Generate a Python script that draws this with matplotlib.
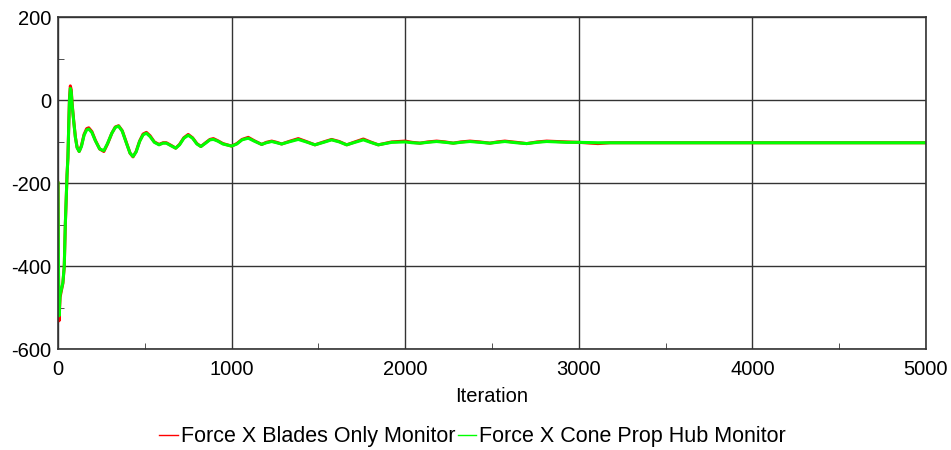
import matplotlib.pyplot as plt
from matplotlib.ticker import MultipleLocator

plt.rcParams['font.family'] = ['Liberation Sans', 'DejaVu Sans']
plt.rcParams['axes.unicode_minus'] = False

# monitor history, sampled iterations
iters = [0, 3, 6, 12, 20, 28, 36, 42, 47, 52, 57, 62, 66, 71, 76, 82, 90, 100, 110, 122,
         135, 150, 165, 177, 195, 215, 240, 264, 285, 310, 330, 349, 370, 395, 415, 432,
         450, 470, 490, 509, 530, 555, 582, 605, 624, 650, 678, 700, 725, 750, 775, 800,
         823, 850, 875, 895, 920, 950, 1000, 1030, 1060, 1096, 1130, 1173, 1200, 1231, 1260,
         1288, 1330, 1384, 1430, 1480, 1530, 1576, 1620, 1663, 1710, 1759, 1800, 1845, 1922,
         2000, 2040, 2085, 2130, 2181, 2230, 2277, 2320, 2373, 2430, 2488, 2530, 2574, 2640,
         2700, 2760, 2815, 2930, 3000, 3110, 3180, 3240, 3420, 3530, 3950, 5000]

hub_force = [-200, -420, -520, -470, -455, -440, -400, -300, -240, -180, -140, -60, 0, 28, 20,
             -15, -50, -90, -115, -124, -112, -85, -72, -70, -78, -98, -118, -122, -105, -80,
             -66, -63, -75, -105, -128, -136, -125, -100, -84, -80, -88, -102, -108, -104,
             -104, -110, -116, -108, -92, -85, -92, -106, -112, -104, -96, -95, -99, -106,
             -111, -106, -96, -92, -99, -107, -103, -100, -103, -106, -101, -95, -101, -108,
             -102, -96, -101, -108, -102, -96, -102, -108, -102, -101, -103, -104, -102, -100,
             -102, -104, -102, -100, -102, -104, -102, -100, -103, -105, -102, -100, -102,
             -102, -103, -103, -103, -103, -103, -103, -103]

blades_force = [-200, -425, -532, -475, -458, -442, -402, -302, -242, -181, -139, -58, 3, 34, 25,
                -12, -48, -89, -114, -124, -110, -83, -69, -67, -76, -97, -118, -124, -106, -80,
                -65, -62, -74, -104, -128, -137, -124, -99, -82, -78, -86, -101, -107, -103,
                -103, -109, -116, -107, -91, -83, -91, -105, -112, -103, -95, -93, -98, -105,
                -111, -105, -95, -90, -98, -107, -102, -99, -102, -106, -100, -93, -100, -108,
                -101, -95, -100, -108, -101, -94, -101, -108, -101, -99, -102, -104, -101, -99,
                -101, -104, -101, -99, -101, -104, -101, -99, -102, -105, -101, -99, -101,
                -102, -105, -103, -103, -103, -103, -103, -103]

fig = plt.figure(figsize=(9.51, 4.5), dpi=100)
ax = fig.add_axes([0.061, 0.2244, 0.9127, 0.7378])

ax.plot(iters, blades_force, color='#ff0000', lw=2.2, label='Force X Blades Only Monitor')
ax.plot(iters, hub_force, color='#00ff00', lw=2.2, label='Force X Cone Prop Hub Monitor')

ax.set_xlim(0, 5000)
ax.set_ylim(-600, 200)
ax.xaxis.set_major_locator(MultipleLocator(1000))
ax.xaxis.set_minor_locator(MultipleLocator(500))
ax.yaxis.set_major_locator(MultipleLocator(200))
ax.yaxis.set_minor_locator(MultipleLocator(100))
ax.tick_params(which='major', direction='in', length=0, labelsize=14.5)
ax.tick_params(axis='x', which='major', pad=8)
ax.tick_params(axis='y', which='major', pad=5)
ax.tick_params(which='minor', direction='in', length=4, color='#333333')
ax.grid(True, which='major', color='#333333', lw=1.0)
for s in ax.spines.values():
    s.set_color('#333333')
    s.set_linewidth(1.2)

ax.set_xlabel('Iteration', fontsize=14.5, labelpad=6)

leg = fig.legend(loc='lower center', bbox_to_anchor=(0.497, -0.037), ncol=2, frameon=False,
                 fontsize=15.5, handlelength=0.85, handletextpad=0.15, columnspacing=0.1)
for line in leg.get_lines():
    line.set_linewidth(1.0)

fig.savefig('out.png', dpi=100)
